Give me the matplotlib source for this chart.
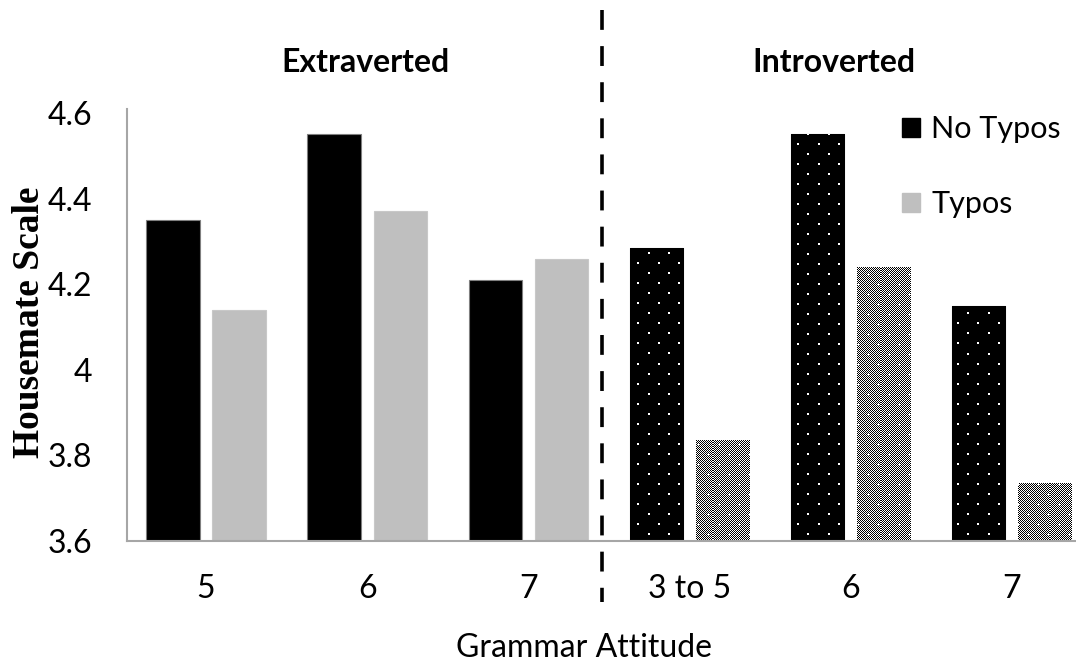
import matplotlib
matplotlib.use("Agg")
import matplotlib.pyplot as plt
import matplotlib.transforms as mtransforms
from matplotlib.lines import Line2D
from matplotlib.patches import Patch
import numpy as np

# Data
groups = ["Extraverted", "Introverted"]
attitude_labels = ["5", "6", "7", "3 to 5", "6", "7"]
no_typos = [4.35, 4.55, 4.21, 4.285, 4.55, 4.15]
typos = [4.14, 4.37, 4.26, 3.835, 4.24, 3.735]
series_names = ["No Typos", "Typos"]

plt.rcParams["font.family"] = ["Lato", "DejaVu Sans"]

W, H = 1076, 661
fig = plt.figure(figsize=(W / 100, H / 100), dpi=100)
ax_l, ax_r, ax_b, ax_t = 127, 1076, 541, 113
ax = fig.add_axes([ax_l / W, (H - ax_b) / H, (ax_r - ax_l) / W, (ax_b - ax_t) / H])

xmin, xmax, ymin, ymax = -0.49, 5.40, 3.6, 4.6
ax.set_xlim(xmin, xmax)
ax.set_ylim(ymin, ymax)

# Pixel-level fill textures for the introverted bars
pw, ph = ax_r - ax_l, ax_b - ax_t
yy, xx = np.mgrid[0:ph, 0:pw]
lattice_a = ((xx % 20) < 2) & ((yy % 20) < 2)
lattice_b = (((xx - 10) % 20) < 2) & (((yy - 10) % 20) < 2)
dots = np.zeros((ph, pw, 3))
dots[lattice_a | lattice_b] = 1.0

checker = np.where((xx + yy) % 2 == 0, 0.0, 1.0)
cx = xx % 20
cy = yy % 20
cx2 = (xx - 10) % 20
cy2 = (yy - 10) % 20
plus = ((cx <= 2) & (cy == 1)) | ((cx == 1) & (cy <= 2)) | \
       ((cx2 <= 2) & (cy2 == 1)) | ((cx2 == 1) & (cy2 <= 2))
checker[plus] = 1.0
checker = np.repeat(checker[:, :, None], 3, axis=2)

x = np.arange(len(attitude_labels))
bw = 0.33
gap = 0.08
n_extra = 3

for i, xi in enumerate(x):
    x1 = xi - (bw + gap) / 2
    x2 = xi + (bw + gap) / 2
    if i < n_extra:
        ax.bar(x1, no_typos[i] - ymin, bw, bottom=ymin,
               color="black", edgecolor="#7f7f7f", linewidth=0.8)
        ax.bar(x2, typos[i] - ymin, bw, bottom=ymin,
               color="#bfbfbf", edgecolor="#c8c8c8", linewidth=0.8)
    else:
        b1 = ax.bar(x1, no_typos[i] - ymin, bw, bottom=ymin,
                    color="black", edgecolor="#7f7f7f", linewidth=0.8)
        im1 = ax.imshow(dots, extent=(xmin, xmax, ymin, ymax), aspect="auto",
                        interpolation="nearest", zorder=2.5)
        im1.set_clip_path(b1.patches[0])
        b2 = ax.bar(x2, typos[i] - ymin, bw, bottom=ymin,
                    color="white", linewidth=0)
        im2 = ax.imshow(checker, extent=(xmin, xmax, ymin, ymax), aspect="auto",
                        interpolation="nearest", zorder=2.5)
        im2.set_clip_path(b2.patches[0])

ax.set_xlim(xmin, xmax)
ax.set_ylim(ymin, ymax)
ax.set_yticks([3.6, 3.8, 4.0, 4.2, 4.4, 4.6])
ax.set_yticklabels(["3.6", "3.8", "4", "4.2", "4.4", "4.6"])
ax.set_xticks(x)
ax.set_xticklabels(attitude_labels)
ax.tick_params(axis="both", length=0, labelsize=23)
ax.tick_params(axis="y", pad=25)
ax.tick_params(axis="x", pad=24)

for side in ["top", "right"]:
    ax.spines[side].set_visible(False)
for side in ["left", "bottom"]:
    ax.spines[side].set_color("#a6a6a6")
    ax.spines[side].set_linewidth(1.5)
    ax.spines[side].set_zorder(3)
ax.spines["left"].set_bounds(3.6, 4.61)

fig.text(30 / W, (H - 322) / H, "Housemate Scale", family=["Liberation Serif"],
         fontweight="bold", fontsize=27, rotation=90, ha="center", va="center")
fig.text(584 / W, (H - 648) / H, "Grammar Attitude", ha="center", va="center",
         fontsize=23)

# Group headings
trans = mtransforms.blended_transform_factory(ax.transData, fig.transFigure)
ax.text(0.99, (H - 63) / H, groups[0], transform=trans, ha="center", va="center",
        fontsize=23, fontweight="bold")
ax.text(3.9, (H - 63) / H, groups[1], transform=trans, ha="center", va="center",
        fontsize=23, fontweight="bold")

# Divider between the two personality groups
fig.add_artist(Line2D([2.455, 2.455], [(H - 10) / H, (H - 602) / H], transform=trans,
                      color="black", linewidth=2.6, linestyle=(0, (5.5, 4.5))))

handles = [Patch(facecolor="black", edgecolor="black"),
           Patch(facecolor="#bfbfbf", edgecolor="#bfbfbf")]
leg = ax.legend(handles, series_names, loc="upper left",
                bbox_to_anchor=(902 / W, (H - 115) / H), bbox_transform=fig.transFigure,
                frameon=False, fontsize=22, handlelength=0.6, handleheight=0.6,
                handletextpad=0.35, labelspacing=1.55, borderpad=0, borderaxespad=0)

fig.savefig("out.png", dpi=100)
